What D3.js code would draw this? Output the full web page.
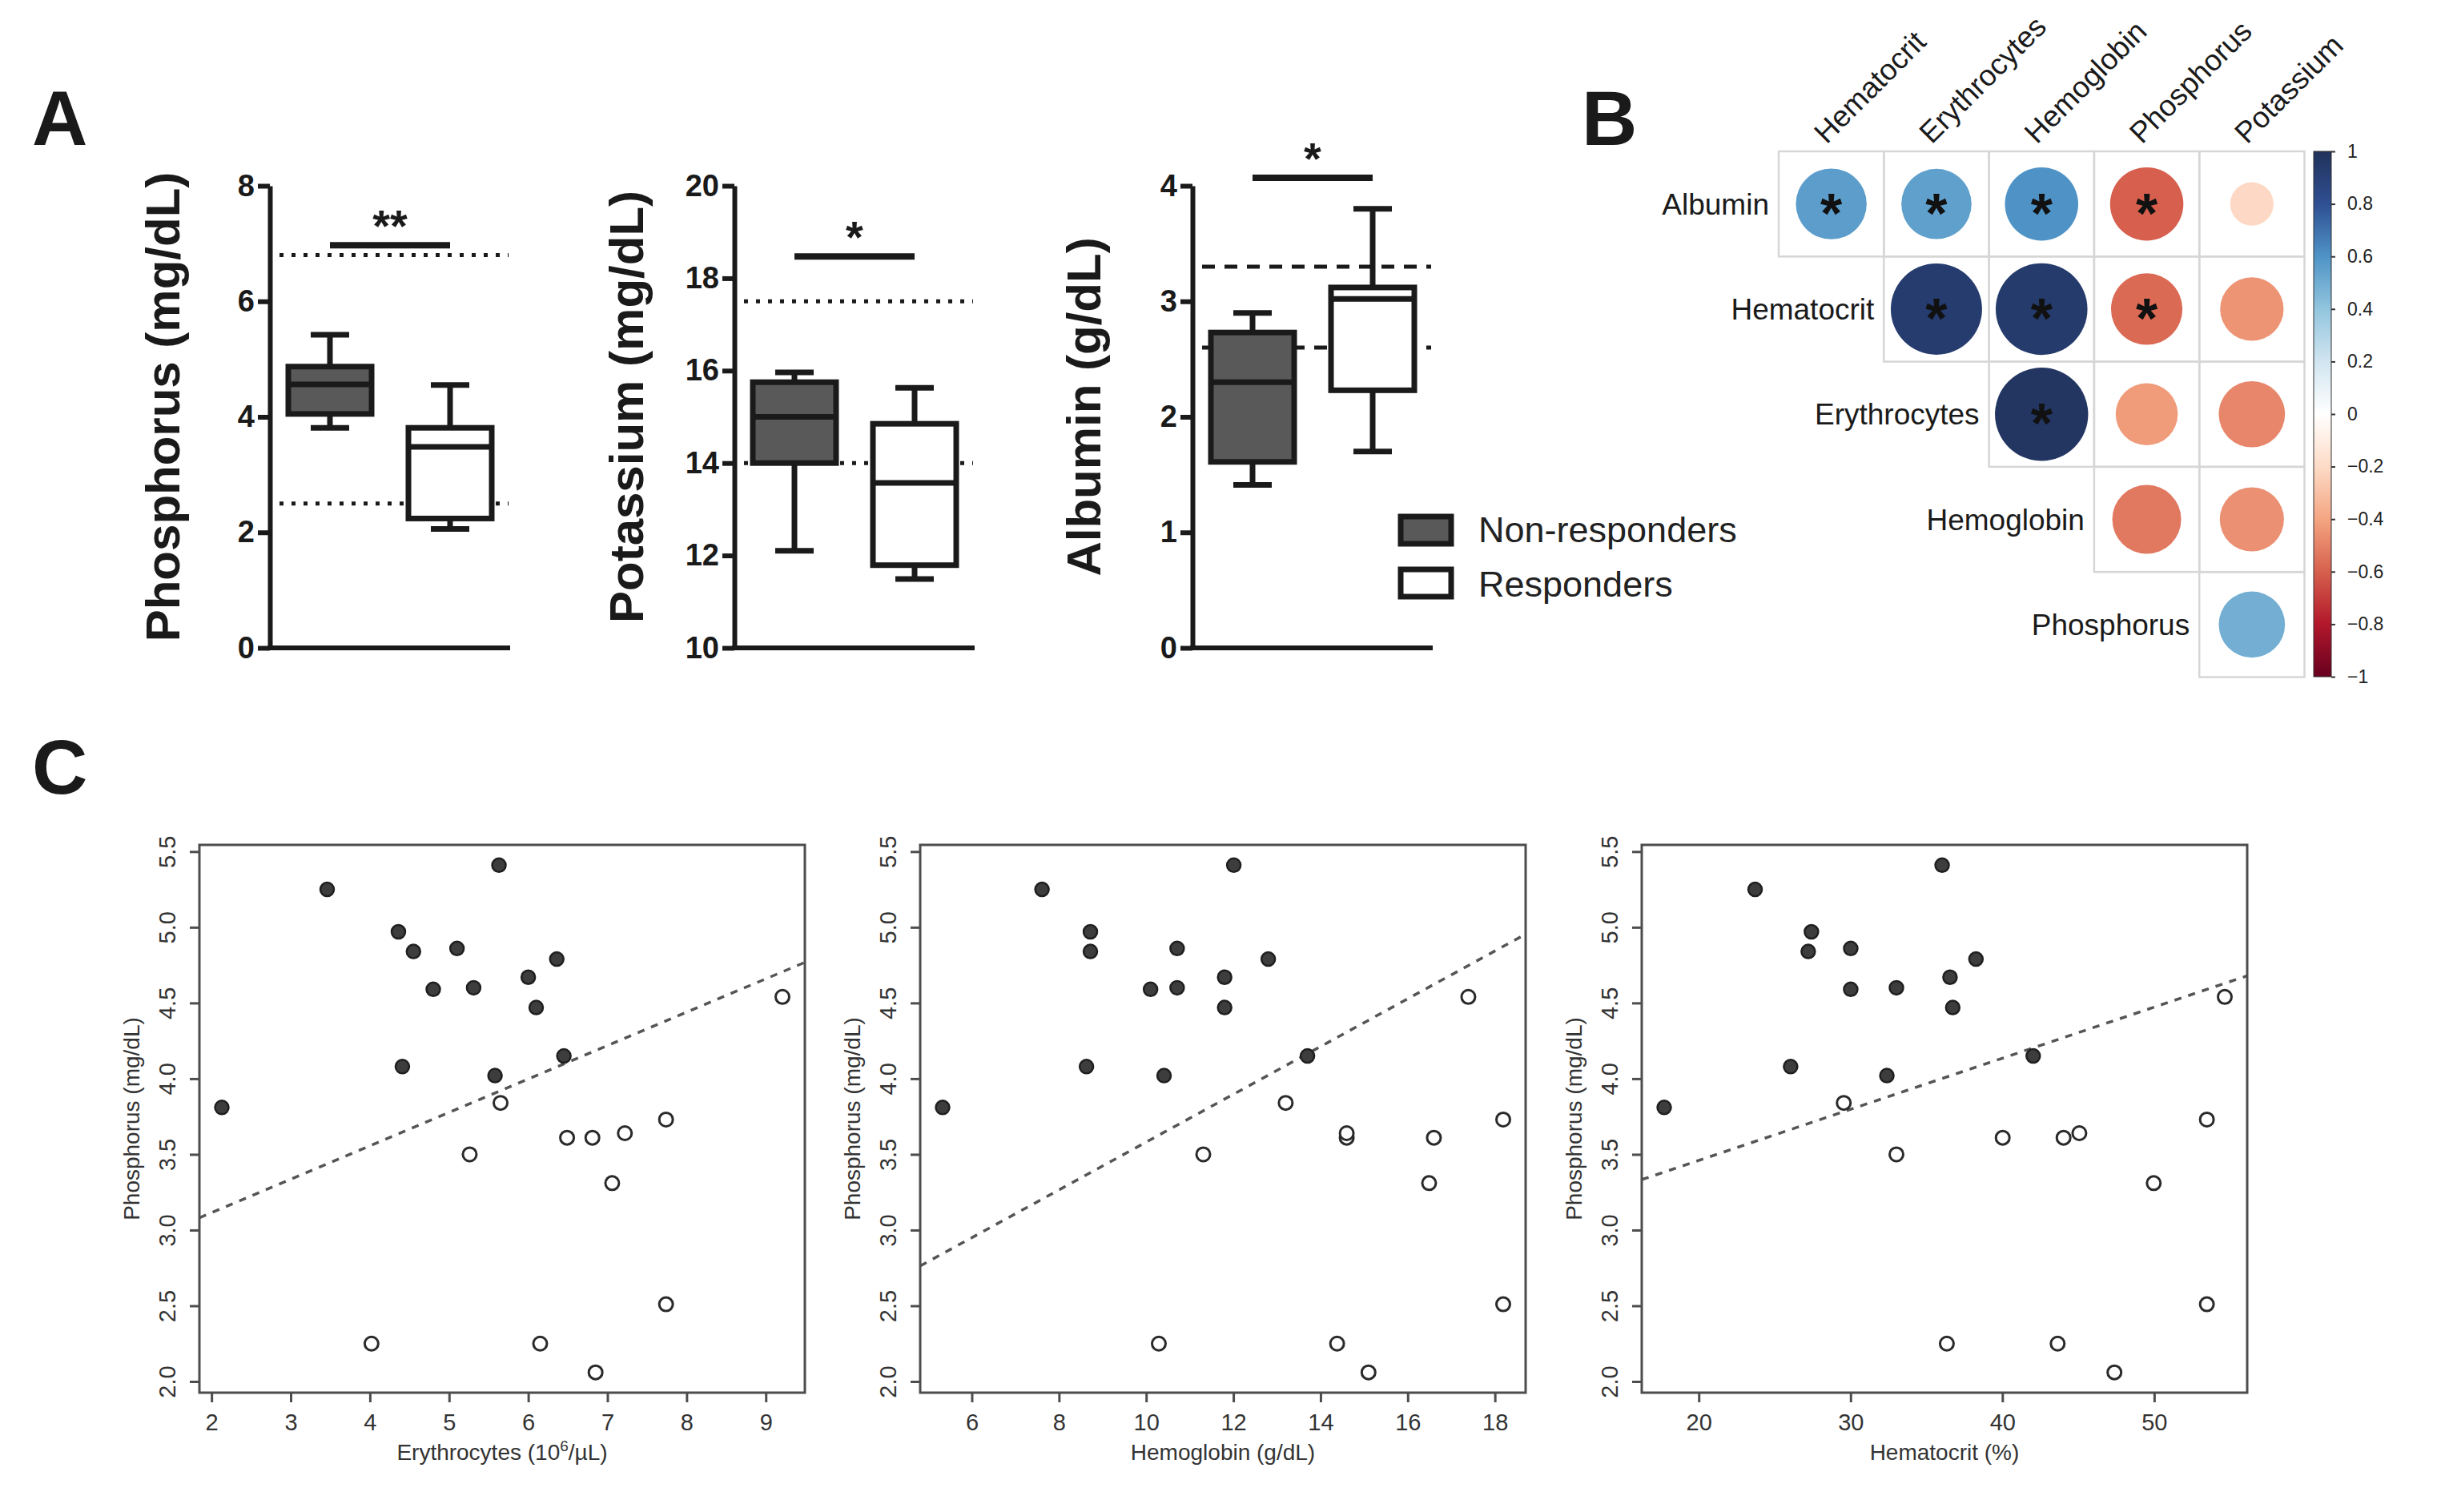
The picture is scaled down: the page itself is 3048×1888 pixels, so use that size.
<!DOCTYPE html>
<html>
<head>
<meta charset="utf-8">
<script src="https://cdn.jsdelivr.net/npm/d3@7/dist/d3.min.js"></script>
<style>
  html, body { margin: 0; padding: 0; background: #fff; }
  svg text { font-family: 'Liberation Sans', Arial, Helvetica, sans-serif; }
</style>
</head>
<body>
<svg id="fig" width="3048" height="1888"></svg>
<script>
// ─── Panel A: box plot summaries [min, q1, median, q3, max] ───
const boxGroups = ['Non-responders', 'Responders'];
const phosphorusStats = [[3.81, 4.05, 4.56, 4.87, 5.42], [2.06, 2.24, 3.48, 3.81, 4.55]];
const potassiumStats = [[12.1, 14.0, 15.0, 15.75, 15.96], [11.49, 11.79, 13.57, 14.85, 15.63]];
const albuminStats = [[1.41, 1.61, 2.30, 2.73, 2.90], [1.70, 2.23, 3.02, 3.12, 3.80]];
const phosphorusRefs = [2.5, 6.8];
const potassiumRefs = [14, 17.5];
const albuminRefs = [2.6, 3.3];
const phosphorusTicks = [0, 2, 4, 6, 8];
const potassiumTicks = [10, 12, 14, 16, 18, 20];
const albuminTicks = [0, 1, 2, 3, 4];
const sigMarks = ['**', '*', '*'];
const sigLevels = [6.97, 18.47, 4.07];

// ─── Panel B: correlation matrix (upper triangle) ───
const corrRows = ['Albumin', 'Hematocrit', 'Erythrocytes', 'Hemoglobin', 'Phosphorus'];
const corrCols = ['Hematocrit', 'Erythrocytes', 'Hemoglobin', 'Phosphorus', 'Potassium'];
const corrValues = [
  [0.56, 0.55, 0.60, -0.60, -0.21],
  [0.93, 0.94, -0.57, -0.45],
  [0.97, -0.43, -0.49],
  [-0.53, -0.46],
  [0.49]
];
const corrSignif = [
  [true, true, true, true, false],
  [true, true, true, false],
  [true, false, false],
  [false, false],
  [false]
];
const colorbarTicks = [1, 0.8, 0.6, 0.4, 0.2, 0, -0.2, -0.4, -0.6, -0.8, -1];
const rdbuStops = ['#67001F', '#B2182B', '#D6604D', '#F4A582', '#FDDBC7', '#FFFFFF',
  '#D1E5F0', '#92C5DE', '#4F93C6', '#2F4F92', '#21325A'];

// ─── Panel C: phosphorus vs haematology, per patient ───
const nrPhosphorus = [3.81, 5.25, 4.97, 4.84, 4.59, 4.86, 4.60, 5.41, 4.08, 4.02, 4.67, 4.47, 4.79, 4.15];
const nrErythrocytes = [2.13, 3.46, 4.36, 4.55, 4.80, 5.10, 5.31, 5.63, 4.41, 5.58, 6.00, 6.10, 6.36, 6.45];
const nrHemoglobin = [5.33, 7.61, 8.72, 8.72, 10.10, 10.71, 10.71, 12.01, 8.63, 10.41, 11.80, 11.80, 12.80, 13.70];
const nrHematocrit = [17.72, 23.71, 27.42, 27.21, 30.01, 30.01, 33.02, 36.03, 26.05, 32.39, 36.55, 36.73, 38.26, 42.03];
const rPhosphorus = [3.84, 3.50, 3.61, 3.61, 3.64, 3.73, 3.31, 4.54, 2.25, 2.25, 2.06, 2.51];
const rErythrocytes = [5.65, 5.26, 6.49, 6.81, 7.22, 7.74, 7.06, 9.21, 4.02, 6.15, 6.85, 7.74];
const rHemoglobin = [13.20, 11.31, 14.60, 16.60, 14.60, 18.19, 16.49, 17.39, 10.29, 14.38, 15.10, 18.19];
const rHematocrit = [29.55, 33.02, 40.02, 44.03, 45.07, 53.47, 49.97, 54.65, 36.34, 43.64, 47.38, 53.47];
const erythrocyteTicks = [2, 3, 4, 5, 6, 7, 8, 9];
const hemoglobinTicks = [6, 8, 10, 12, 14, 16, 18];
const hematocritTicks = [20, 30, 40, 50];
const phosphorusTicksC = [2.0, 2.5, 3.0, 3.5, 4.0, 4.5, 5.0, 5.5];
const fitIntercepts = [2.674, 2.003, 2.785];
const fitSlopes = [0.2206, 0.1578, 0.03375];

const svg = d3.select('#fig');
svg.append('rect').attr('width', 3048).attr('height', 1888).attr('fill', '#fff');

const ink = '#1a1a1a';

function panelLetter(txt, x, y) {
  svg.append('text').attr('x', x).attr('y', y).attr('font-size', 96)
    .attr('font-weight', 700).attr('fill', ink).text(txt);
}

// ─── Box plots ───
function drawBoxPlot(opt) {
  const g = svg.append('g');
  const y = d3.scaleLinear().domain(opt.domain).range([809, 232]);
  const x = d3.scalePoint().domain(boxGroups).range([opt.axisX, opt.axisX + 300]).padding(0.5);
  const boxW = 104, capW = 48;

  // reference ranges
  opt.refs.forEach(v => {
    g.append('line')
      .attr('x1', opt.axisX + 12).attr('x2', opt.axisX + 298)
      .attr('y1', y(v)).attr('y2', y(v))
      .attr('stroke', ink).attr('stroke-width', 5)
      .attr('stroke-dasharray', opt.dashed ? '16 12' : '5 10');
  });

  opt.stats.forEach((s, i) => {
    const cx = x(boxGroups[i]);
    const bg = g.append('g').attr('stroke', ink).attr('stroke-width', 7);
    bg.append('line').attr('x1', cx).attr('x2', cx).attr('y1', y(s[0])).attr('y2', y(s[4]));
    bg.append('line').attr('x1', cx - capW / 2).attr('x2', cx + capW / 2).attr('y1', y(s[0])).attr('y2', y(s[0]));
    bg.append('line').attr('x1', cx - capW / 2).attr('x2', cx + capW / 2).attr('y1', y(s[4])).attr('y2', y(s[4]));
    bg.append('rect')
      .attr('x', cx - boxW / 2).attr('width', boxW)
      .attr('y', y(s[3])).attr('height', y(s[1]) - y(s[3]))
      .attr('fill', i === 0 ? '#595959' : '#fff');
    bg.append('line').attr('x1', cx - boxW / 2).attr('x2', cx + boxW / 2).attr('y1', y(s[2])).attr('y2', y(s[2]));
  });

  // significance bar
  const x1 = x(boxGroups[0]), x2 = x(boxGroups[1]);
  g.append('line').attr('x1', x1).attr('x2', x2)
    .attr('y1', y(opt.sigY)).attr('y2', y(opt.sigY))
    .attr('stroke', ink).attr('stroke-width', 8);
  g.append('text').attr('x', (x1 + x2) / 2).attr('y', y(opt.sigY) - 34 + 29)
    .attr('text-anchor', 'middle').attr('font-size', 56).attr('font-weight', 700)
    .attr('fill', ink).text(opt.sig);

  // axes
  const axis = g.append('g').attr('transform', `translate(${opt.axisX},0)`)
    .call(d3.axisLeft(y).tickValues(opt.ticks).tickSize(15).tickSizeOuter(0).tickPadding(4)
      .tickFormat(d3.format('d')));
  axis.select('.domain').attr('stroke', ink).attr('stroke-width', 6);
  axis.selectAll('.tick line').attr('stroke', ink).attr('stroke-width', 6);
  axis.selectAll('.tick text').attr('font-size', 38).attr('font-weight', 700)
    .attr('fill', ink).attr('font-family', "'Liberation Sans', Arial, sans-serif");
  g.append('line').attr('x1', opt.axisX - 3).attr('x2', opt.axisX + 300)
    .attr('y1', 809).attr('y2', 809).attr('stroke', ink).attr('stroke-width', 6);

  g.append('text')
    .attr('transform', `translate(${opt.titleX},508) rotate(-90)`)
    .attr('text-anchor', 'middle').attr('font-size', 60).attr('font-weight', 700)
    .attr('fill', ink).text(opt.title);
}

panelLetter('A', 40, 181);
drawBoxPlot({ axisX: 337, domain: [0, 8], ticks: phosphorusTicks, stats: phosphorusStats,
  refs: phosphorusRefs, dashed: false, sig: sigMarks[0], sigY: sigLevels[0],
  title: 'Phosphorus (mg/dL)', titleX: 224 });
drawBoxPlot({ axisX: 917, domain: [10, 20], ticks: potassiumTicks, stats: potassiumStats,
  refs: potassiumRefs, dashed: false, sig: sigMarks[1], sigY: sigLevels[1],
  title: 'Potassium (mg/dL)', titleX: 803 });
drawBoxPlot({ axisX: 1489, domain: [0, 4], ticks: albuminTicks, stats: albuminStats,
  refs: albuminRefs, dashed: true, sig: sigMarks[2], sigY: sigLevels[2],
  title: 'Albumin (g/dL)', titleX: 1374 });

// legend
const legend = svg.append('g');
boxGroups.forEach((name, i) => {
  legend.append('rect').attr('x', 1749).attr('y', 645 + i * 66).attr('width', 63).attr('height', 34)
    .attr('fill', i === 0 ? '#595959' : '#fff').attr('stroke', ink).attr('stroke-width', 7);
  legend.append('text').attr('x', 1846).attr('y', 677 + i * 68).attr('font-size', 45)
    .attr('fill', '#222').text(name);
});

// ─── Correlation matrix ───
function drawCorrelation() {
  const g = svg.append('g');
  const cell = 131.3, left = 2221, top = 189;
  const xc = d3.scaleBand().domain(corrCols).range([left, left + 5 * cell]);
  const yr = d3.scaleBand().domain(corrRows).range([top, top + 5 * cell]);
  const color = d3.scaleLinear().domain(d3.range(-1, 1.0001, 0.2)).range(rdbuStops);

  corrRows.forEach((row, j) => {
    corrValues[j].forEach((v, k) => {
      const col = corrCols[j + k];
      const cx = xc(col) + cell / 2, cy = yr(row) + cell / 2;
      g.append('rect').attr('x', xc(col)).attr('y', yr(row)).attr('width', cell).attr('height', cell)
        .attr('fill', 'none').attr('stroke', '#d6d6d6').attr('stroke-width', 2.5);
      g.append('circle').attr('cx', cx).attr('cy', cy)
        .attr('r', cell * 0.45 * Math.sqrt(Math.abs(v)))
        .attr('fill', color(v));
      if (corrSignif[j][k]) {
        g.append('text').attr('x', cx).attr('y', cy + 36).attr('text-anchor', 'middle')
          .attr('font-size', 70).attr('font-weight', 700).attr('fill', '#111').text('*');
      }
    });
    g.append('text').attr('x', xc(corrCols[j]) - 12).attr('y', yr(row) + cell / 2 + 13)
      .attr('text-anchor', 'end').attr('font-size', 37).attr('fill', '#1a1a1a').text(row);
  });

  corrCols.forEach(col => {
    const px = xc(col) + cell / 2 - 6;
    g.append('text').attr('transform', `translate(${px},${top - 8}) rotate(-45)`)
      .attr('font-size', 37).attr('fill', '#1a1a1a').text(col);
  });

  // colour bar
  const cb = d3.scaleLinear().domain([-1, 1]).range([845, 189]);
  const grad = svg.append('defs').append('linearGradient').attr('id', 'rdbu')
    .attr('x1', 0).attr('y1', 1).attr('x2', 0).attr('y2', 0);
  rdbuStops.forEach((c, i) => {
    grad.append('stop').attr('offset', `${i * 10}%`).attr('stop-color', c);
  });
  g.append('rect').attr('x', 2889).attr('y', cb(1)).attr('width', 22).attr('height', cb(-1) - cb(1))
    .attr('fill', 'url(#rdbu)').attr('stroke', '#333').attr('stroke-width', 1);
  const ax = g.append('g').attr('transform', 'translate(2911,0)')
    .call(d3.axisRight(cb).tickValues(colorbarTicks).tickSize(5).tickPadding(15).tickFormat(d3.format('~g')));
  ax.select('.domain').remove();
  ax.selectAll('.tick line').attr('stroke', '#333').attr('stroke-width', 2);
  ax.selectAll('.tick text').attr('font-size', 23).attr('fill', '#222')
    .attr('font-family', "'Liberation Sans', Arial, sans-serif");
}

panelLetter('B', 1975, 181);
drawCorrelation();

// ─── Scatter plots ───
function padded(values) {
  const [lo, hi] = d3.extent(values);
  const pad = (hi - lo) * 0.04;
  return [lo - pad, hi + pad];
}

function drawScatter(opt, idx) {
  const W = 756, H = 684, top = 1055;
  const g = svg.append('g').attr('transform', `translate(${opt.left},${top})`);
  const x = d3.scaleLinear().domain(padded(opt.nrX.concat(opt.rX))).range([0, W]);
  const y = d3.scaleLinear().domain(padded(nrPhosphorus.concat(rPhosphorus))).range([H, 0]);

  const clipId = 'clip' + idx;
  g.append('clipPath').attr('id', clipId).append('rect').attr('width', W).attr('height', H);

  const xd = x.domain();
  g.append('line').attr('clip-path', `url(#${clipId})`)
    .attr('x1', x(xd[0])).attr('x2', x(xd[1]))
    .attr('y1', y(fitIntercepts[idx] + fitSlopes[idx] * xd[0]))
    .attr('y2', y(fitIntercepts[idx] + fitSlopes[idx] * xd[1]))
    .attr('stroke', '#555').attr('stroke-width', 3.5).attr('stroke-dasharray', '9 9');

  g.selectAll('circle.nr').data(d3.zip(opt.nrX, nrPhosphorus)).join('circle')
    .attr('class', 'nr').attr('cx', d => x(d[0])).attr('cy', d => y(d[1])).attr('r', 8.5)
    .attr('fill', '#3d3d3d').attr('stroke', '#1f1f1f').attr('stroke-width', 2.5);
  g.selectAll('circle.r').data(d3.zip(opt.rX, rPhosphorus)).join('circle')
    .attr('class', 'r').attr('cx', d => x(d[0])).attr('cy', d => y(d[1])).attr('r', 8.5)
    .attr('fill', '#fff').attr('stroke', '#2a2a2a').attr('stroke-width', 3);

  g.append('rect').attr('width', W).attr('height', H).attr('fill', 'none')
    .attr('stroke', '#4d4d4d').attr('stroke-width', 3);

  const xa = g.append('g').attr('transform', `translate(0,${H})`)
    .call(d3.axisBottom(x).tickValues(opt.ticks).tickSize(12).tickPadding(14).tickFormat(d3.format('d')));
  xa.select('.domain').remove();
  xa.selectAll('.tick line').attr('stroke', '#4d4d4d').attr('stroke-width', 3);
  xa.selectAll('.tick text').attr('font-size', 29).attr('fill', '#333')
    .attr('font-family', "'Liberation Sans', Arial, sans-serif");

  const ya = g.append('g')
    .call(d3.axisLeft(y).tickValues(phosphorusTicksC).tickSize(12).tickFormat(d3.format('.1f')));
  ya.select('.domain').remove();
  ya.selectAll('.tick line').attr('stroke', '#4d4d4d').attr('stroke-width', 3);
  ya.selectAll('.tick text')
    .attr('x', null).attr('dy', null).attr('y', 0)
    .attr('transform', 'translate(-30,0) rotate(-90)')
    .attr('text-anchor', 'middle').attr('font-size', 29).attr('fill', '#333')
    .attr('font-family', "'Liberation Sans', Arial, sans-serif");

  const xt = g.append('text').attr('x', W / 2).attr('y', H + 84).attr('text-anchor', 'middle')
    .attr('font-size', 28).attr('fill', '#333');
  opt.label.forEach(part => {
    const ts = xt.append('tspan').text(part.t);
    if (part.sup) ts.attr('font-size', 19).attr('dy', -11);
    else if (part.after) ts.attr('dy', 11);
  });

  g.append('text').attr('transform', `translate(-75,${H / 2}) rotate(-90)`)
    .attr('text-anchor', 'middle').attr('font-size', 28).attr('fill', '#333')
    .text('Phosphorus (mg/dL)');
}

panelLetter('C', 40, 991);
drawScatter({ left: 249, nrX: nrErythrocytes, rX: rErythrocytes, ticks: erythrocyteTicks,
  label: [{ t: 'Erythrocytes (10' }, { t: '6', sup: true }, { t: '/\u00b5L)', after: true }] }, 0);
drawScatter({ left: 1149, nrX: nrHemoglobin, rX: rHemoglobin, ticks: hemoglobinTicks,
  label: [{ t: 'Hemoglobin (g/dL)' }] }, 1);
drawScatter({ left: 2050, nrX: nrHematocrit, rX: rHematocrit, ticks: hematocritTicks,
  label: [{ t: 'Hematocrit (%)' }] }, 2);
</script>
</body>
</html>
